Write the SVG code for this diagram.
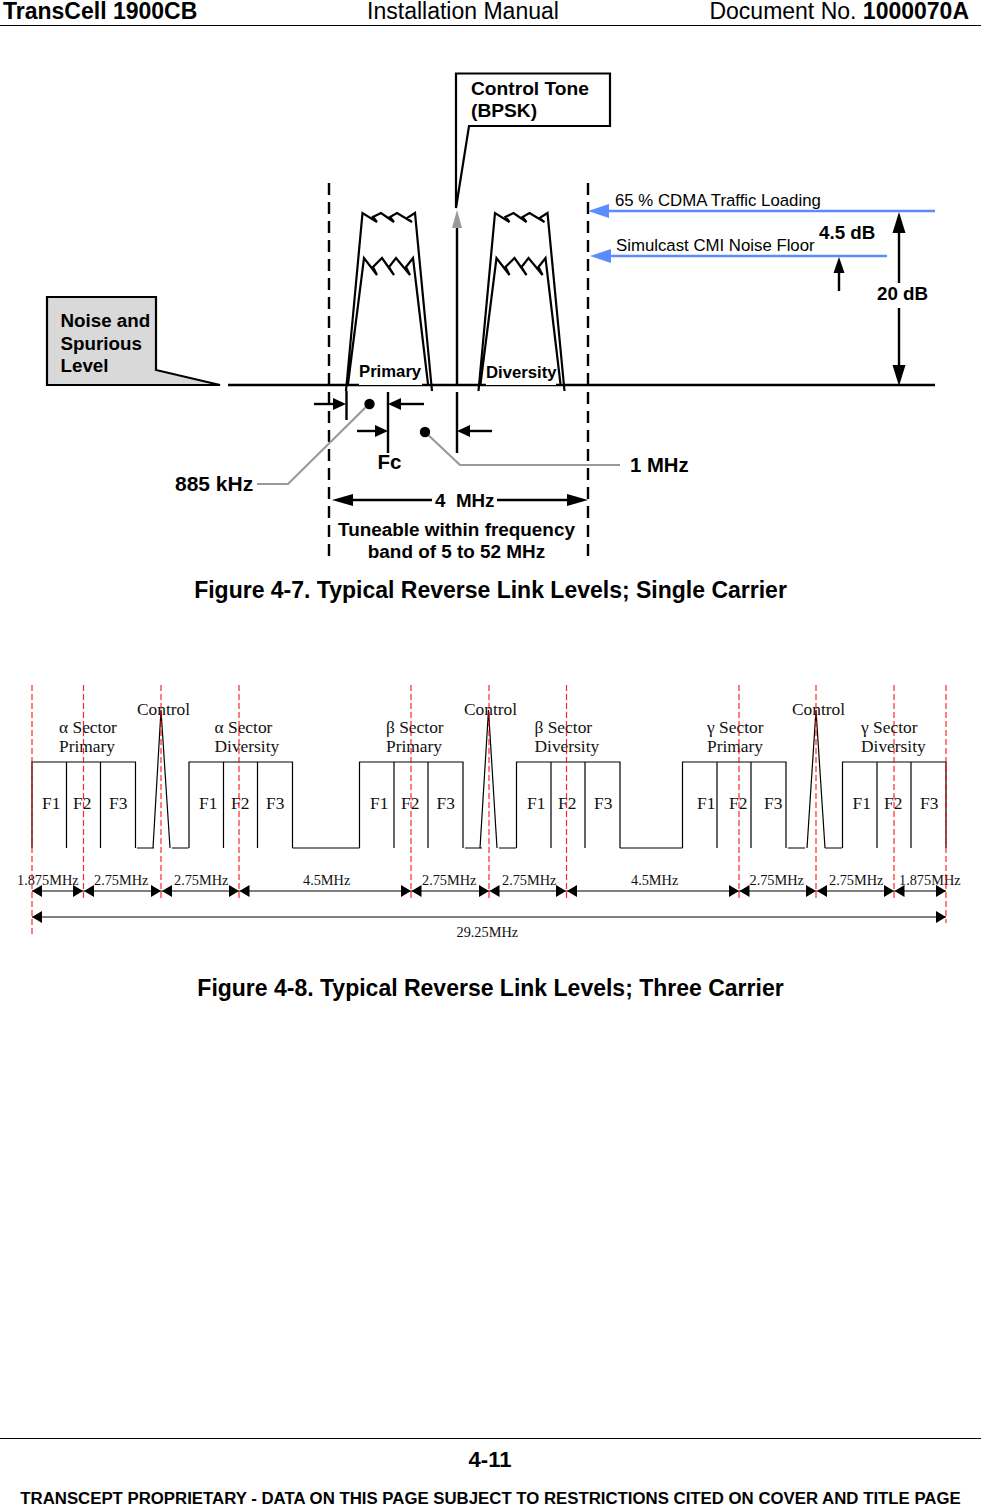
<svg xmlns="http://www.w3.org/2000/svg" width="981" height="1505" viewBox="0 0 981 1505">
<style>
text{font-family:"Liberation Sans",Arial,sans-serif;fill:#000}
.b{font-weight:bold}
.s{font-family:"Liberation Serif","Times New Roman",serif;font-size:17.400px;fill:#111}
.d{font-family:"Liberation Serif","Times New Roman",serif;font-size:14.300px;fill:#111}
.m{text-anchor:middle}
.l{fill:none;stroke:#000;stroke-width:2.4}
.t{fill:none;stroke:#000;stroke-width:1.2}
.g{fill:none;stroke:#999;stroke-width:2.2}
.dash{fill:none;stroke:#000;stroke-width:2.4;stroke-dasharray:12 7}
.red{fill:none;stroke:#f00;stroke-width:1.2;stroke-dasharray:6 3;opacity:.85}
.blue{fill:none;stroke:#5b8cff;stroke-width:2.4}
</style>
<defs>
<polygon id="hb" points="0,0 21,-7 21,7" fill="#5b8cff"/>
<polygon id="ah" points="0,0 13,-6 13,6" fill="#000"/>
<polygon id="ad" points="0,0 10,-6 10,6" fill="#000"/>
<path id="pk" d="M-3,391 L13.5,213 L28,222 L24,217 L32,213 L45,222 L41,217 L48,213 L63,222 L58,218 L66,213 L83,391 M-1,384 L15,258 L28,275 L24,267 L33,258 L45,275 L40,267 L47,258 L61,275 L57,267 L64,258 L79,384" fill="none" stroke="#000" stroke-width="2.2"/>
<g id="blk"><path class="t" d="M0,86 V0 H103.500 V86 M34.500,0 V86 M68.500,0 V86"/></g>
</defs>

<g id="header">
<text class="b" x="3" y="18.500" font-size="23">TransCell 1900CB</text>
<text x="463" y="18.500" font-size="23" text-anchor="middle">Installation Manual</text>
<text x="969" y="18.500" font-size="23" text-anchor="end">Document No. <tspan class="b">1000070A</tspan></text>
<path d="M0,25.500 H981" stroke="#000" stroke-width="1"/>
</g>

<g id="connectors">
<!-- figure 4-7 -->
<path class="l" d="M228,385 H935"/>
<path class="dash" d="M329,183 V558 M588,183 V558"/>
<path class="l" d="M457,225 V385 M457,392 V453 M346.500,391 V420 M388,392 V453"/>
<polygon points="457,210 462,228 452,228" fill="#999"/>
<path class="l" d="M314,404 H334"/><use href="#ah" transform="translate(346,404) rotate(180)"/>
<path class="l" d="M400,404 H424"/><use href="#ah" transform="translate(388,404)"/>
<path class="l" d="M357,431 H376"/><use href="#ah" transform="translate(388,431) rotate(180)"/>
<path class="l" d="M469,431 H492"/><use href="#ah" transform="translate(457,431)"/>
<path class="g" d="M369,404 L288,484 H257 M425,432 L460,465 H620"/>
<circle cx="369.500" cy="404" r="5.200"/><circle cx="425" cy="432" r="5.200"/>
<path class="blue" d="M605,211 H935 M605,256 H887"/>
<use href="#hb" transform="translate(588,211)"/><use href="#hb" transform="translate(590,256)"/>
<path class="l" d="M899,225 V283 M899,308 V372"/>
<polygon points="899,212 905.500,233 892.500,233"/><polygon points="899,386 905.500,365 892.500,365"/>
<path class="l" d="M839,270 V291"/><polygon points="839,257 844.500,273 833.500,273"/>
<path class="l" d="M345,500 H432 M497,500 H575"/>
<polygon points="332,500 353,494 353,506"/><polygon points="588,500 567,494 567,506"/>

<!-- figure 4-8 -->
<path class="t" d="M137,848 H154 M153,848 L161,710 L170,848 M172,848 H188.500 M292.500,848 H359.500 M465,848 H482 M480,848 L488.500,710 L497,848 M499,848 H516 M620,848 H622 M622,848 H682.500 M788,848 H805 M807,848 L816,710 L825,848 M825,848 H842"/>
<path class="t" d="M32,891 H946 M32,917 H946"/>
<g id="dim-heads">
<use href="#ad" transform="translate(32,891)"/><use href="#ad" transform="translate(83,891) rotate(180)"/>
<use href="#ad" transform="translate(84,891)"/><use href="#ad" transform="translate(161,891) rotate(180)"/>
<use href="#ad" transform="translate(162,891)"/><use href="#ad" transform="translate(239,891) rotate(180)"/>
<use href="#ad" transform="translate(239.500,891)"/><use href="#ad" transform="translate(411,891) rotate(180)"/>
<use href="#ad" transform="translate(411.500,891)"/><use href="#ad" transform="translate(489,891) rotate(180)"/>
<use href="#ad" transform="translate(489.500,891)"/><use href="#ad" transform="translate(566,891) rotate(180)"/>
<use href="#ad" transform="translate(567,891)"/><use href="#ad" transform="translate(739,891) rotate(180)"/>
<use href="#ad" transform="translate(739.500,891)"/><use href="#ad" transform="translate(816,891) rotate(180)"/>
<use href="#ad" transform="translate(817,891)"/><use href="#ad" transform="translate(894,891) rotate(180)"/>
<use href="#ad" transform="translate(894.500,891)"/><use href="#ad" transform="translate(946,891) rotate(180)"/>
<use href="#ad" transform="translate(32,917)"/><use href="#ad" transform="translate(946,917) rotate(180)"/>
</g>
</g>

<g id="node-control-tone">
<path d="M456,73.500 H610 V126 H469 L456,208 Z" fill="#fff" stroke="#000" stroke-width="2.200"/>
<text class="b" x="471" y="95" font-size="19.200">Control Tone</text>
<text class="b" x="471" y="117" font-size="19.200">(BPSK)</text>
</g>
<g id="node-noise">
<path d="M47,297 H156 V370 L220,385 H47 Z" fill="#d9d9d9" stroke="#000" stroke-width="2.200"/>
<text class="b" x="60.500" y="327" font-size="18.800">Noise and</text>
<text class="b" x="60.500" y="350" font-size="18.800">Spurious</text>
<text class="b" x="60.500" y="372" font-size="18.800">Level</text>
</g>
<g id="node-primary">
<use href="#pk" transform="translate(349,0)"/>
<rect x="359" y="361" width="63" height="24" fill="#fff"/>
<text class="b" x="359" y="377" font-size="16.700">Primary</text>
</g>
<g id="node-diversity">
<use href="#pk" transform="translate(481.500,0)"/>
<rect x="486" y="362" width="70" height="23" fill="#fff"/>
<text class="b" x="486" y="378" font-size="16.700">Diversity</text>
</g>
<g id="labels-4-7">
<text x="615" y="206" font-size="16.800">65 % CDMA Traffic Loading</text>
<text x="616" y="251" font-size="16.800">Simulcast CMI Noise Floor</text>
<text class="b" x="819" y="239" font-size="18.800">4.5 dB</text>
<text class="b" x="877" y="300" font-size="18.800">20 dB</text>
<text class="b" x="377.500" y="469" font-size="20.500">Fc</text>
<text class="b" x="630" y="472" font-size="20.300">1 MHz</text>
<text class="b" x="175" y="491" font-size="21">885 kHz</text>
<text class="b" x="435" y="507" font-size="18.800" xml:space="preserve">4  MHz</text>
<text class="b m" x="456.500" y="536" font-size="18.900">Tuneable within frequency</text>
<text class="b m" x="456.500" y="558" font-size="18.900">band of 5 to 52 MHz</text>
<text class="b m" x="490.500" y="598" font-size="23">Figure 4-7. Typical Reverse Link Levels; Single Carrier</text>
</g>

<g id="block-a-primary"><use href="#blk" x="32" y="762"/>
<text class="s" x="42" y="809">F1</text><text class="s" x="73" y="809">F2</text><text class="s" x="109" y="809">F3</text>
<text class="s" x="59" y="733">α Sector</text><text class="s" x="59" y="752">Primary</text></g>
<g id="block-a-diversity"><use href="#blk" x="189" y="762"/>
<text class="s" x="199" y="809">F1</text><text class="s" x="231" y="809">F2</text><text class="s" x="266" y="809">F3</text>
<text class="s" x="214.500" y="733">α Sector</text><text class="s" x="214.500" y="752">Diversity</text></g>
<g id="block-b-primary"><use href="#blk" x="359.500" y="762"/>
<text class="s" x="370" y="809">F1</text><text class="s" x="401" y="809">F2</text><text class="s" x="436.500" y="809">F3</text>
<text class="s" x="386" y="733">β Sector</text><text class="s" x="386" y="752">Primary</text></g>
<g id="block-b-diversity"><use href="#blk" x="516.500" y="762"/>
<text class="s" x="527" y="809">F1</text><text class="s" x="558" y="809">F2</text><text class="s" x="594" y="809">F3</text>
<text class="s" x="534.500" y="733">β Sector</text><text class="s" x="534.500" y="752">Diversity</text></g>
<g id="block-c-primary"><use href="#blk" x="682.500" y="762"/>
<text class="s" x="697" y="809">F1</text><text class="s" x="729" y="809">F2</text><text class="s" x="764" y="809">F3</text>
<text class="s" x="707" y="733">γ Sector</text><text class="s" x="707" y="752">Primary</text></g>
<g id="block-c-diversity"><use href="#blk" x="842.500" y="762"/>
<text class="s" x="852.500" y="809">F1</text><text class="s" x="884" y="809">F2</text><text class="s" x="920" y="809">F3</text>
<text class="s" x="861" y="733">γ Sector</text><text class="s" x="861" y="752">Diversity</text></g>
<g id="labels-4-8">
<text class="s" x="137" y="715">Control</text><text class="s" x="464" y="715">Control</text><text class="s" x="792" y="715">Control</text>
<text class="d" x="17" y="885">1.875MHz</text><text class="d" x="94" y="885">2.75MHz</text><text class="d" x="174" y="885">2.75MHz</text>
<text class="d" x="303" y="885">4.5MHz</text><text class="d" x="422" y="885">2.75MHz</text><text class="d" x="502" y="885">2.75MHz</text>
<text class="d" x="631" y="885">4.5MHz</text><text class="d" x="749.500" y="885">2.75MHz</text><text class="d" x="829" y="885">2.75MHz</text>
<text class="d" x="899" y="885">1.875MHz</text><text class="d" x="456.500" y="937">29.25MHz</text>
<text class="b m" x="490.500" y="996" font-size="23">Figure 4-8. Typical Reverse Link Levels; Three Carrier</text>
</g>
<g id="red-guides">
<path class="red" d="M32,685 V935 M83.500,685 V900 M161,685 V900 M239,685 V900 M411,685 V900 M489,685 V900 M566.500,685 V900 M739,685 V900 M816,685 V900 M894,685 V900 M946,685 V923"/>
</g>

<g id="footer">
<path d="M0,1438.500 H981" stroke="#000" stroke-width="1"/>
<text class="b m" x="490" y="1467" font-size="22">4-11</text>
<text class="b m" x="490.500" y="1504" font-size="16.800">TRANSCEPT PROPRIETARY - DATA ON THIS PAGE SUBJECT TO RESTRICTIONS CITED ON COVER AND TITLE PAGE</text>
</g>
</svg>
